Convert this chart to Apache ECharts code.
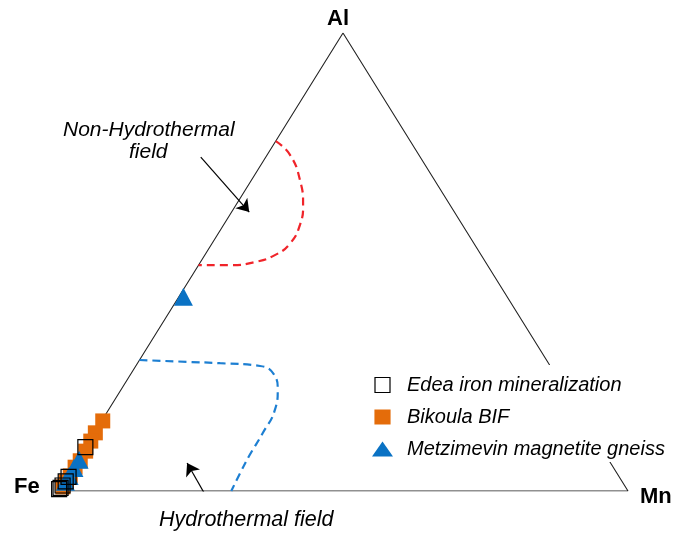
<!DOCTYPE html>
<html>
<head>
<meta charset="utf-8">
<script src="https://cdn.jsdelivr.net/npm/echarts@6/dist/echarts.min.js"></script>
<style>
  html, body { margin: 0; padding: 0; background: #fff; }
  #chart { width: 676px; height: 534px; }
</style>
</head>
<body>
<div id="chart"></div>
<script>
// Ternary Fe–Mn–Al discrimination diagram. All compositions are [Fe, Mn, Al] in %.
const apexLabels = ['Fe', 'Mn', 'Al'];
const seriesNames = ['Edea iron mineralization', 'Bikoula BIF', 'Metzimevin magnetite gneiss'];

const edeaIron = [
  [90.4, 0.0, 9.6], [96.6, 0.3, 3.1], [97.6, 0.3, 2.1],
  [98.6, 0.2, 1.2], [99.2, 0.1, 0.7], [99.6, 0.0, 0.4]
];
const bikoulaBIF = [
  [84.5, 0.2, 15.3], [87.1, 0.2, 12.7], [88.8, 0.3, 10.9], [90.8, 0.5, 8.7],
  [92.8, 0.6, 6.6], [94.4, 0.4, 5.2], [96.2, 0.5, 3.3], [97.6, 0.4, 2.0], [98.7, 0.4, 0.9]
];
const metzimevin = [
  [56.8, 0.8, 42.4], [92.9, 0.3, 6.8], [94.7, 0.3, 5.0], [96.4, 0.3, 3.3], [97.7, 0.3, 2.0]
];

// Field boundaries
const nonHydroBoundary = [
  [23.6, 0.0, 76.4], [22.6, 4.0, 73.4], [23.6, 8.5, 67.9], [25.8, 11.8, 62.4],
  [28.5, 13.4, 58.1], [32.2, 13.7, 54.1], [36.2, 12.3, 51.5], [40.4, 9.6, 50.0],
  [45.2, 5.5, 49.3], [50.7, 0.0, 49.3]
];
const hydroBoundary = [
  [71.4, 0.0, 28.6], [63.3, 8.5, 28.2], [57.6, 14.5, 27.9], [50.9, 21.8, 27.3],
  [49.4, 25.1, 25.5], [50.4, 27.5, 22.1], [53.1, 29.2, 17.7], [57.7, 29.6, 12.7],
  [62.4, 29.7, 7.9], [66.1, 30.0, 3.9], [69.6, 30.4, 0.0]
];

// Annotation arrows: [from, to]
const nonHydroArrow = [[38.5, -11.4, 72.9], [36.0, 3.1, 60.9]];
const hydroArrow = [[74.7, 28.8, -3.5], [74.3, 19.6, 6.1]];

// Fe at (0,0), Mn at (1,0), Al at (0.5,1)
function toXY(c) {
  const s = c[0] + c[1] + c[2];
  const mn = c[1] / s, al = c[2] / s;
  return [mn + 0.5 * al, al];
}

const frame = [[100, 0, 0], [0, 100, 0], [0, 0, 100], [100, 0, 0]];
const FONT = "'Liberation Sans', Arial, Helvetica, sans-serif";

const chart = echarts.init(document.getElementById('chart'), null, { renderer: 'canvas' });

chart.setOption({
  animation: false,
  backgroundColor: '#fff',
  grid: { left: 58, right: 48, top: 33, bottom: 43 },
  xAxis: { type: 'value', min: 0, max: 1, show: false },
  yAxis: { type: 'value', min: 0, max: 1, show: false },
  legend: {
    orient: 'vertical',
    left: 364,
    top: 365,
    padding: [10, 8, 3, 8],
    backgroundColor: '#fff',
    itemWidth: 21,
    itemHeight: 15,
    itemGap: 12,
    symbolKeepAspect: true,
    textStyle: {
      fontFamily: FONT, fontStyle: 'italic', fontSize: 20, color: '#000',
      lineHeight: 20, padding: [0, 0, 0, 9]
    },
    data: [
      { name: seriesNames[0], icon: 'path://M0,0L14,0L14,14L0,14Z',
        itemStyle: { color: '#fff', borderColor: '#000', borderWidth: 1.2 } },
      { name: seriesNames[1], icon: 'path://M0,0L14,0L14,13L0,13Z',
        itemStyle: { color: '#e46c0a', borderWidth: 0 } },
      { name: seriesNames[2], icon: 'path://M10.5,0L21,15L0,15Z',
        itemStyle: { color: '#0a72c4', borderWidth: 0 } }
    ]
  },
  graphic: [
    { type: 'text', left: 'center', top: 8, style: { text: apexLabels[2], font: 'bold 22px ' + FONT, fill: '#000' } },
    { type: 'text', left: 14, top: 476, style: { text: apexLabels[0], font: 'bold 22px ' + FONT, fill: '#000' } },
    { type: 'text', left: 640, top: 486, style: { text: apexLabels[1], font: 'bold 22px ' + FONT, fill: '#000' } },
    { type: 'text', left: 63, top: 120, style: { text: 'Non-Hydrothermal', font: 'italic 21px ' + FONT, fill: '#000' } },
    { type: 'text', left: 129, top: 142, style: { text: 'field', font: 'italic 21px ' + FONT, fill: '#000' } },
    { type: 'text', left: 159, top: 509, style: { text: 'Hydrothermal field', font: 'italic 21.5px ' + FONT, fill: '#000' } }
  ],
  series: [
    {
      type: 'line', name: 'frame', data: frame.map(toXY), showSymbol: false, silent: true,
      lineStyle: { color: '#222', width: 1.1 }, z: 1
    },
    {
      type: 'line', name: 'non-hydrothermal boundary', data: nonHydroBoundary.map(toXY),
      smooth: 0.5, showSymbol: false, silent: true,
      lineStyle: { color: '#f0242a', width: 2.2, type: [8, 5] }, z: 1
    },
    {
      type: 'line', name: 'hydrothermal boundary', data: hydroBoundary.map(toXY),
      smooth: 0.5, showSymbol: false, silent: true,
      lineStyle: { color: '#1d7fd2', width: 2.2, type: [8, 5] }, z: 1
    },
    {
      type: 'lines', coordinateSystem: 'cartesian2d', silent: true,
      symbol: ['none', 'arrow'], symbolSize: 12,
      lineStyle: { color: '#000', width: 1.2, opacity: 1 },
      data: [
        { coords: nonHydroArrow.map(toXY) },
        { coords: hydroArrow.map(toXY) }
      ], z: 2
    },
    {
      type: 'scatter', name: seriesNames[1], data: bikoulaBIF.map(toXY),
      symbol: 'rect', symbolSize: 15, itemStyle: { color: '#e46c0a', opacity: 1 }, z: 3
    },
    {
      type: 'scatter', name: seriesNames[2], data: metzimevin.map(toXY),
      symbol: 'triangle', symbolSize: [19, 18], itemStyle: { color: '#0a72c4', opacity: 1 }, z: 4
    },
    {
      type: 'scatter', name: seriesNames[0], data: edeaIron.map(toXY),
      symbol: 'rect', symbolSize: 15,
      itemStyle: { color: 'rgba(255,255,255,0)', borderColor: '#000', borderWidth: 1.2, opacity: 1 }, z: 5
    }
  ]
});
</script>
</body>
</html>
